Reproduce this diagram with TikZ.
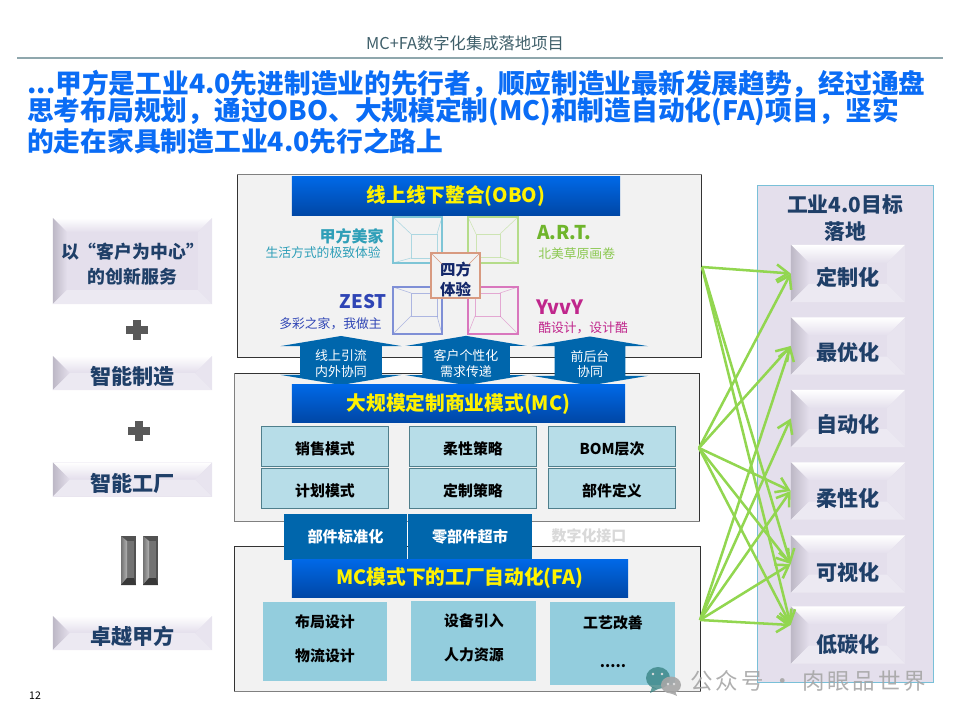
\documentclass[tikz,border=0pt]{standalone}
\usepackage{fontspec}
\setmainfont{Noto Sans CJK SC}
\usepackage{tikz}
\usetikzlibrary{arrows.meta,shapes.arrows,shapes.geometric}

\definecolor{titleblue}{HTML}{0A6CF5}
\definecolor{rulegray}{HTML}{8FA7AD}
\definecolor{pagetitle}{HTML}{3F5F6A}
\definecolor{navytext}{HTML}{1F3F68}
\definecolor{bevelface}{HTML}{E4DFEC}
\definecolor{bevelshade}{HTML}{BDB8C6}
\definecolor{paneledge}{HTML}{79C0D8}
\definecolor{boxgray}{HTML}{F2F2F2}
\definecolor{flowblue}{HTML}{0066AC}
\definecolor{headtop}{HTML}{0068E6}
\definecolor{headbottom}{HTML}{0047A6}
\definecolor{cellpale}{HTML}{B7DDE8}
\definecolor{celledge}{HTML}{4F7F8C}
\definecolor{celldeep}{HTML}{93CDDD}
\definecolor{linkgreen}{HTML}{92D650}
\definecolor{framecyan}{HTML}{7EC5D6}
\definecolor{framegreen}{HTML}{B5DC8A}
\definecolor{frameblue}{HTML}{7F8FD6}
\definecolor{framepink}{HTML}{D977BD}
\definecolor{hubedge}{HTML}{D89A80}
\definecolor{hubtext}{HTML}{14286A}
\definecolor{meijiateal}{HTML}{2F9FB8}
\definecolor{zestblue}{HTML}{2F45B5}
\definecolor{artgreen}{HTML}{6FB52C}
\definecolor{arttag}{HTML}{8BC850}
\definecolor{yvvypink}{HTML}{C0268C}

\newcommand{\fsz}[1]{\fontsize{#1}{#1}\selectfont}
% taller first line, so the text sits lower in its box
\newcommand{\lowered}[1]{\rule{0pt}{#1pt}}

\tikzset{
  bevel depth/.store in=\beveldepth,
  bevel depth=.4cm,
  bevelbox/.style={rectangle, fill=bevelface, inner sep=0pt, align=center, text=navytext,
    path picture={
      \coordinate (bvnw) at (path picture bounding box.north west);
      \coordinate (bvne) at (path picture bounding box.north east);
      \coordinate (bvsw) at (path picture bounding box.south west);
      \coordinate (bvse) at (path picture bounding box.south east);
      \shade[top color=white, bottom color=bevelface] (bvnw) -- (bvne)
        -- ([xshift=-\beveldepth,yshift=-\beveldepth]bvne) -- ([xshift=\beveldepth,yshift=-\beveldepth]bvnw) -- cycle;
      \shade[left color=bevelshade, right color=bevelface] (bvnw) -- (bvsw)
        -- ([xshift=\beveldepth,yshift=\beveldepth]bvsw) -- ([xshift=\beveldepth,yshift=-\beveldepth]bvnw) -- cycle;
      \fill[bevelface!70!white] (bvsw) -- (bvse)
        -- ([xshift=-\beveldepth,yshift=\beveldepth]bvse) -- ([xshift=\beveldepth,yshift=\beveldepth]bvsw) -- cycle;
      \fill[bevelface!85!white] (bvne) -- (bvse)
        -- ([xshift=-\beveldepth,yshift=\beveldepth]bvse) -- ([xshift=-\beveldepth,yshift=-\beveldepth]bvne) -- cycle;
    }},
  sidebox/.style={bevelbox, minimum width=3.975cm, minimum height=.85cm, bevel depth=.42cm, font=\fsz{15}\bfseries},
  goalbox/.style={bevelbox, minimum width=2.85cm, minimum height=1.425cm, bevel depth=.45cm, font=\fsz{15}\bfseries},
  layerbox/.style={rectangle, draw=black!80, fill=boxgray, line width=.7pt, inner sep=0pt},
  headbar/.style={rectangle, shade, top color=headtop, bottom color=headbottom, inner sep=0pt,
    text=yellow, font=\fsz{14}\bfseries},
  flowarrow/.style={double arrow, shape border rotate=90, fill=flowblue, text=white, inner sep=0pt, align=center,
    double arrow head extend=.3125cm, double arrow head indent=0pt, double arrow tip angle=161,
    minimum height=1.225cm, minimum width=3.025cm, font=\fsz{9.2}},
  tabbox/.style={rectangle, fill=flowblue, text=white, inner sep=0pt, minimum width=3.08cm, minimum height=1.15cm,
    font=\fsz{10.8}\bfseries},
  palecell/.style={rectangle, draw=celledge, fill=cellpale, line width=.7pt, inner sep=0pt,
    minimum width=3.15cm, minimum height=1cm, font=\fsz{10.6}\bfseries},
  deepcell/.style={rectangle, fill=celldeep, inner sep=0pt, minimum width=3.12cm},
  celltext/.style={font=\fsz{10.6}\bfseries, inner sep=0pt},
  brandname/.style={font=\fsz{11.4}\bfseries, inner sep=0pt},
  brandline/.style={font=\fsz{9.1}, inner sep=0pt},
  link/.style={draw=linkgreen, line width=1.8pt, -{Straight Barb[length=3mm,width=4mm]}},
  markbar/.style={draw=black!65, line width=5.5pt},
}

\begin{document}
\begin{tikzpicture}[x=0.025cm, y=-0.025cm]
  \useasboundingbox (0,0) rectangle (960,720);

  % Page head
  \node[inner sep=0pt, text=pagetitle, font=\fsz{11.6}] (pagehead) at (465,43) {MC+FA数字化集成落地项目};
  \coordinate (ruleleft) at (17,58);
  \coordinate (ruleright) at (943,58);
  \draw[rulegray, line width=1pt] (ruleleft) -- (ruleright);
  \node[anchor=west, inner sep=0pt, text=titleblue, font=\fsz{19}\bfseries] (titlea) at (27,84) {...甲方是工业4.0先进制造业的先行者，顺应制造业最新发展趋势，经过通盘};
  \node[anchor=west, inner sep=0pt, text=titleblue, font=\fsz{19}\bfseries] (titleb) at (27,112) {思考布局规划，通过OBO、大规模定制(MC)和制造自动化(FA)项目，坚实};
  \node[anchor=west, inner sep=0pt, text=titleblue, font=\fsz{19}\bfseries] (titlec) at (27,141) {的走在家具制造工业4.0先行之路上};
  \node[inner sep=0pt, font=\fsz{7.5}] (pagenum) at (35,696) {12};

  % Left column
  \node[sidebox, minimum height=2.15cm, bevel depth=.35cm, font=\fsz{12.7}\bfseries] (service) at (132.5,261) {\lowered{15.4}以“客户为中心”\\[5pt]的创新服务};
  \node[sidebox] (smartmake) at (132.5,373) {\lowered{17.4}智能制造};
  \node[sidebox] (smartplant) at (132.5,479.5) {\lowered{18}智能工厂};
  \node[sidebox] (topfirm) at (132.5,633) {\lowered{17.4}卓越甲方};
  \foreach \px/\py in {137/330, 139/431} {
    \draw[markbar] (\px-11,\py) -- (\px+11,\py);
    \draw[markbar] (\px,\py-10) -- (\px,\py+10);
  }
  \foreach \qx in {121,143} {
    \fill[black!68] (\qx,536) rectangle (\qx+15,585);
    \fill[black!55] (\qx+6,541) rectangle (\qx+13,578);
    \shade[left color=black!55, right color=black!30] (\qx,536) -- (\qx+6,541) -- (\qx+6,578) -- (\qx,585) -- cycle;
    \fill[black!78] (\qx,585) -- (\qx+6,578) -- (\qx+13,578) -- (\qx+15,585) -- cycle;
  }

  % Three layers
  \node[layerbox, minimum width=11.575cm, minimum height=4.55cm] (obobox) at (469.5,266) {};
  \node[layerbox, minimum width=11.6cm, minimum height=3.675cm] (mcbox) at (467,447.5) {};
  \node[layerbox, minimum width=11.625cm, minimum height=3.6cm] (fabox) at (467.5,619) {};
  \draw[black!50, line width=1.2pt] (obobox.north west) -- (obobox.north east);
  \draw[black!50, line width=1.2pt] (mcbox.north west) -- (mcbox.south west) -- (mcbox.south east);
  \draw[black!50, line width=1.4pt] (fabox.south west) -- (fabox.south east);

  % Four experience frames
  \foreach \xa/\ya/\xb/\yb/\xc/\yc/\xd/\yd/\col in {
      393/217/442/263/411/234/437/258/framecyan,
      468/217/518/263/476/234/500/257/framegreen,
      393/287/442/334/411/293/437/316/frameblue,
      468/287/518/334/475/293/500/316/framepink} {
    \draw[\col, opacity=.6] (\xa,\ya) -- (\xc,\yc) (\xb,\ya) -- (\xd,\yc) (\xa,\yb) -- (\xc,\yd) (\xb,\yb) -- (\xd,\yd);
    \draw[\col, opacity=.6] (\xc,\yc) rectangle (\xd,\yd);
    \draw[\col, line width=.8pt] (\xa,\ya) rectangle (\xb,\yb);
  }
  \node[rectangle, draw=hubedge, fill=boxgray, line width=.9pt, minimum width=1.225cm, minimum height=1.125cm,
    inner sep=0pt, align=center, text=hubtext, font=\fsz{11}\bfseries] (hub) at (455.5,275.5) {\lowered{15.3}四方\\[3pt]体验};
  \draw[hubedge] (hub.north west) -- ++(.3cm,-.3cm);
  \draw[hubedge] (hub.north east) -- ++(-.3cm,-.3cm);

  \node[brandname, anchor=east, text=meijiateal] (meijia) at (384,236) {甲方美家};
  \node[brandline, anchor=east, text=meijiateal] (meijiatag) at (381,253) {生活方式的极致体验};
  \node[brandname, anchor=east, text=zestblue, font=\fsz{13.3}\bfseries] (zest) at (387,302) {ZEST};
  \node[brandline, anchor=east, text=zestblue] (zesttag) at (382,324) {多彩之家，我做主};
  \node[brandname, anchor=west, text=artgreen, font=\fsz{13.5}\bfseries] (art) at (537,233) {A.R.T.};
  \node[brandline, anchor=west, text=arttag] (arttag) at (538,254) {北美草原画卷};
  \node[brandname, anchor=west, text=yvvypink, font=\fsz{14}\bfseries] (yvvy) at (536,307) {YvvY};
  \node[brandline, anchor=west, text=yvvypink] (yvvytag) at (538,328) {酷设计，设计酷};

  % Flows between the first two layers
  \node[flowarrow] (flowa) at (341,360.5) {\lowered{12.3}线上引流\\[2pt]内外协同};
  \node[flowarrow] (flowb) at (466,360.5) {\lowered{12.3}客户个性化\\[2pt]需求传递};
  \node[flowarrow, minimum width=2.9cm] (flowc) at (590,361) {\lowered{12.3}前后台\\[2pt]协同};

  % Layer titles
  \node[headbar, minimum width=8.2cm, minimum height=.95cm] (obohead) at (456,196) {线上线下整合(OBO)};

  \node[headbar, minimum width=8.325cm, minimum height=.925cm] (mchead) at (458.5,403.5) {大规模定制商业模式(MC)};
  \node[palecell] (sales) at (325,446) {\lowered{13.5}销售模式};
  \node[palecell] (plan) at (325,488) {\lowered{13.5}计划模式};
  \node[palecell] (flexible) at (473,446) {\lowered{13.5}柔性策略};
  \node[palecell] (custom) at (473,488) {\lowered{13.5}定制策略};
  \node[palecell] (bom) at (612,446) {\lowered{13.5}BOM层次};
  \node[palecell] (parts) at (612,488) {\lowered{13.5}部件定义};

  % Interface tabs
  \node[tabbox] (standard) at (345.5,537) {部件标准化};
  \node[tabbox] (market) at (470,537) {零部件超市};
  \node[inner sep=0pt, text=black!15, font=\fsz{10.6}\bfseries] (interface) at (589,536) {数字化接口};

  \node[headbar, minimum width=8.4cm, minimum height=.925cm] (fahead) at (460,578.5) {MC模式下的工厂自动化(FA)};
  \node[deepcell, minimum height=1.975cm] (facella) at (325,641.5) {};
  \node[deepcell, minimum height=2cm] (facellb) at (473.5,641) {};
  \node[deepcell, minimum height=2.075cm] (facellc) at (612.5,643.5) {};
  \node[celltext] (layout) at (325,622) {布局设计};
  \node[celltext] (logistics) at (325,656) {物流设计};
  \node[celltext] (equip) at (474,621) {设备引入};
  \node[celltext] (staff) at (474,655) {人力资源};
  \node[celltext] (process) at (613,623) {工艺改善};
  \node[celltext] (more) at (613,666) {.....};

  % Goals on the right
  \node[rectangle, draw=paneledge, fill=bevelface, line width=.7pt, inner sep=0pt, minimum width=4.375cm, minimum height=12.4cm] (goalpanel) at (845.5,434) {};
  \node[inner sep=0pt, align=center, text=navytext, font=\fsz{14.8}\bfseries] (goaltitle) at (845,218) {工业4.0目标\\[4pt]落地};
  \node[goalbox] (gcustom) at (848,273.5) {\lowered{18.6}定制化};
  \node[goalbox] (gbest) at (848,346) {\lowered{21.5}最优化};
  \node[goalbox] (gauto) at (848,418.5) {\lowered{21.5}自动化};
  \node[goalbox] (gflex) at (848,491) {\lowered{23}柔性化};
  \node[goalbox] (gview) at (848,564) {\lowered{24.4}可视化};
  \node[goalbox] (glow) at (848,635) {\lowered{25.8}低碳化};

  % Links from the layers to the goals
  \coordinate (obolink) at (702,267);
  \coordinate (mclink) at (699,448);
  \coordinate (falink) at (700,620);
  \foreach \goal in {gcustom,gview} \draw[link] (obolink) -- (\goal.west);
  \draw[link] (obolink) -- ([yshift=.25cm]glow.west);
  \foreach \goal in {gcustom,gbest,gflex,gview} \draw[link] (mclink) -- (\goal.west);
  \draw[link] (mclink) -- ([yshift=.25cm]glow.west);
  \foreach \goal in {gbest,gauto,gflex,gview} \draw[link] (falink) -- (\goal.west);
  \draw[link] (falink) -- ([yshift=.25cm]glow.west);

  % Account mark at the lower right
  \fill[teal!60!gray, opacity=.75] (658,678) ellipse (12 and 11);
  \fill[teal!60!gray, opacity=.75] (652,687) -- (650,693) -- (658,689) -- cycle;
  \fill[black!35, opacity=.9] (671,685) ellipse (10 and 8.5);
  \fill[black!35, opacity=.9] (675,691) -- (677,696) -- (670,693) -- cycle;
  \foreach \ex/\ey in {653/674, 662/674, 668/684, 674/684} \fill[white!75!gray] (\ex,\ey) circle (1.4);
  \node[anchor=west, inner sep=0pt, text=black!35, opacity=.9, font=\fsz{16}\addfontfeatures{LetterSpace=13}] (account) at (690,681) {公众号 · 肉眼品世界};
\end{tikzpicture}
\end{document}
